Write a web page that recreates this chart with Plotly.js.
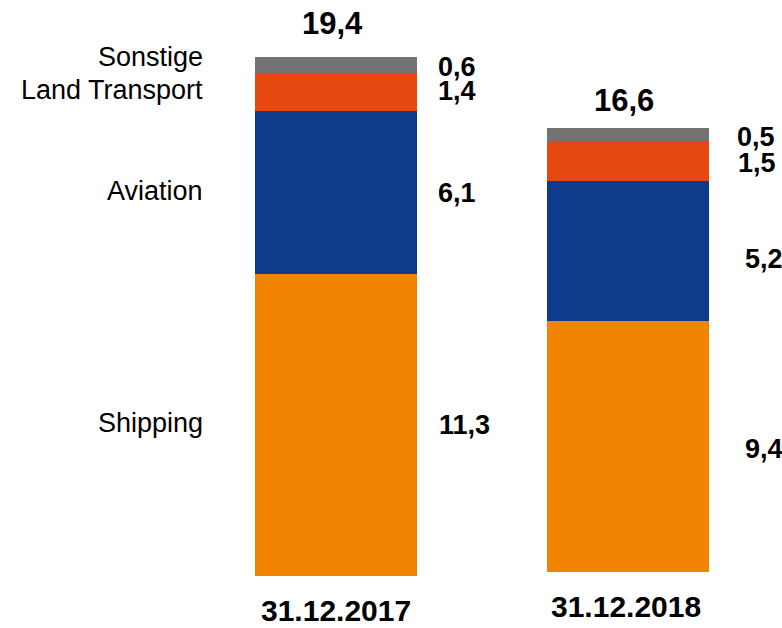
<!DOCTYPE html>
<html>
<head>
<meta charset="utf-8">
<script src="https://cdn.plot.ly/plotly-3.0.1.min.js"></script>
<style>html,body{margin:0;padding:0;background:#fff;}#chart{width:782px;height:628px;}</style>
</head>
<body>
<div id="chart"></div>
<script>
var categories = ['31.12.2017', '31.12.2018'];
var seriesNames = ['Shipping', 'Aviation', 'Land Transport', 'Sonstige'];
var shipping = [11.3, 9.4];
var aviation = [6.1, 5.2];
var landTransport = [1.4, 1.5];
var sonstige = [0.6, 0.5];
var totals = [19.4, 16.6];
var valueLabels = [['11,3', '9,4'], ['6,1', '5,2'], ['1,4', '1,5'], ['0,6', '0,5']];
var totalLabels = ['19,4', '16,6'];

var colors = ['rgb(241,132,0)', 'rgb(14,60,138)', 'rgb(230,72,18)', 'rgb(115,115,115)'];
var series = [shipping, aviation, landTransport, sonstige];
var barWidth = 0.555;
var FONT = 'Liberation Sans, Arial, sans-serif';

var traces = [];
series.forEach(function (vals, si) {
  vals.forEach(function (v, ci) {
    traces.push({
      type: 'bar', x: [ci], y: [v], width: barWidth,
      yaxis: ci === 0 ? 'y' : 'y2',
      marker: {color: colors[si], line: {width: 0}},
      hoverinfo: 'skip', showlegend: false
    });
  });
});

// style offsets (px) for label fine-tuning
var valShiftY = [[0, -3], [-1, -8], [1, -2], [-2, -2]];
var valShiftX = [[20, 34], [19, 34], [19, 27], [19, 26]];
var nameShiftY = [2, 1, 2, 8];

var ann = [];
for (var ci = 0; ci < categories.length; ci++) {
  var yref = ci === 0 ? 'y' : 'y2';
  var base = 0;
  for (var si = 0; si < series.length; si++) {
    var v = series[si][ci];
    var mid = base + v / 2;
    ann.push({
      x: ci + barWidth / 2, y: mid, xref: 'x', yref: yref,
      text: valueLabels[si][ci], showarrow: false, xanchor: 'left', yanchor: 'middle',
      xshift: valShiftX[si][ci], yshift: valShiftY[si][ci],
      font: {family: FONT, size: 27, color: '#000', weight: 'bold'}
    });
    if (ci === 0) {
      ann.push({
        x: ci - barWidth / 2, y: mid, xref: 'x', yref: yref,
        text: seriesNames[si], showarrow: false, xanchor: 'right', yanchor: 'middle',
        xshift: -50, yshift: nameShiftY[si],
        font: {family: FONT, size: 27, color: '#000'}
      });
    }
    base += v;
  }
  ann.push({
    x: ci, y: totals[ci], xref: 'x', yref: yref,
    text: totalLabels[ci], showarrow: false, xanchor: 'center', yanchor: 'bottom',
    xshift: -4, yshift: ci === 0 ? 14 : 8,
    font: {family: FONT, size: 31, color: '#000', weight: 'bold'}
  });
  ann.push({
    x: ci, y: 0, xref: 'x', yref: yref,
    text: categories[ci], showarrow: false, xanchor: 'center', yanchor: 'top',
    xshift: ci === 0 ? 0 : -2, yshift: -16,
    font: {family: FONT, size: 30, color: '#000', weight: 'bold'}
  });
}

var pxPerUnit = 26.75;
var layout = {
  width: 782, height: 628,
  margin: {l: 0, r: 0, t: 0, b: 0, pad: 0},
  paper_bgcolor: '#fff', plot_bgcolor: '#fff',
  barmode: 'stack', showlegend: false,
  xaxis: {range: [-336 / 292, 446 / 292], visible: false, fixedrange: true},
  yaxis: {range: [-52 / pxPerUnit, 576 / pxPerUnit], visible: false, fixedrange: true},
  yaxis2: {range: [-56 / pxPerUnit, 572 / pxPerUnit], visible: false, overlaying: 'y', fixedrange: true},
  annotations: ann
};
Plotly.newPlot('chart', traces, layout, {displayModeBar: false, staticPlot: true});
</script>
</body>
</html>
